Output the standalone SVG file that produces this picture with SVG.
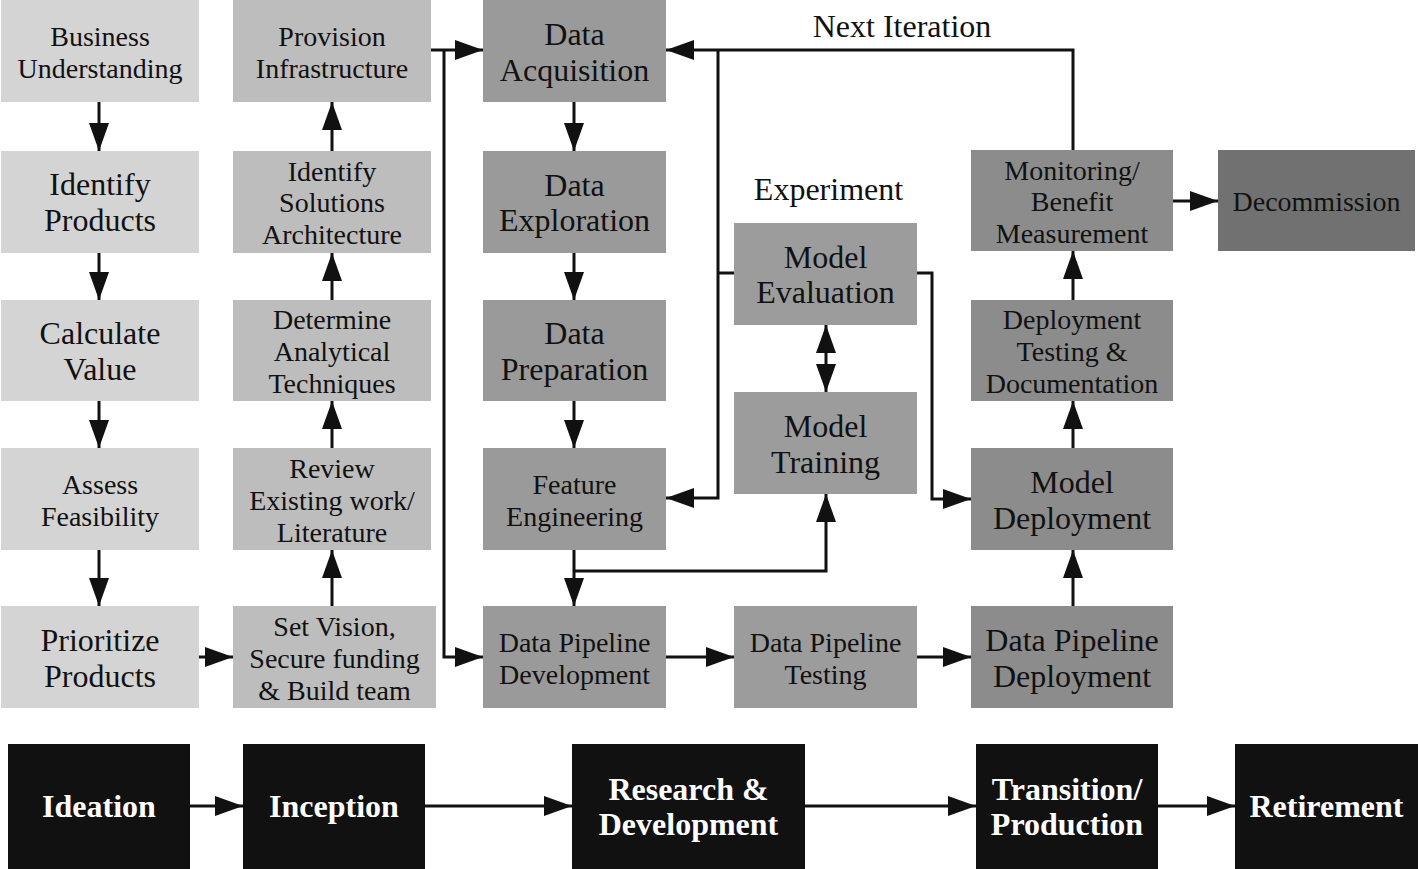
<svg xmlns="http://www.w3.org/2000/svg" width="1418" height="869" viewBox="0 0 1418 869">
<defs>
<style>
.t{font-family:"Liberation Serif","Tinos","Times New Roman","Nimbus Roman","FreeSerif","DejaVu Serif",serif;fill:#111;text-anchor:middle;dominant-baseline:central}
.s28{font-size:28px}
.s32{font-size:32px}
.b{font-family:"Liberation Serif","Tinos","Times New Roman","Nimbus Roman","FreeSerif","DejaVu Serif",serif;font-weight:bold;font-size:32px;fill:#fff;text-anchor:middle;dominant-baseline:central}
.c1{fill:#d4d4d4}
.c2{fill:#bdbdbd}
.c3{fill:#9a9a9a}
.c4{fill:#9c9c9c}
.c5{fill:#8c8c8c}
.c6{fill:#717171}
.k{fill:#111111}
.ln{fill:none;stroke:#111;stroke-width:3}
.ar{marker-end:url(#ah)}
</style>
<marker id="ah" markerUnits="userSpaceOnUse" markerWidth="28" markerHeight="20" refX="28" refY="10" orient="auto-start-reverse"><path d="M0,0 L28,10 L0,20 z" fill="#111"/></marker>
</defs>
<rect width="1418" height="869" fill="#fff"/>

<g id="connectors">
<path class="ln ar" d="M99,102 V151"/>
<path class="ln ar" d="M99,253 V300"/>
<path class="ln ar" d="M99,401 V448"/>
<path class="ln ar" d="M99,550 V606"/>
<path class="ln ar" d="M198,657 H233"/>
<path class="ln ar" d="M332,606 V550"/>
<path class="ln ar" d="M332,448 V401"/>
<path class="ln ar" d="M332,300 V253"/>
<path class="ln ar" d="M332,151 V102"/>
<path class="ln ar" d="M431,50 H483"/>
<path class="ln ar" d="M444,50 V657 H483"/>
<path class="ln ar" d="M574,102 V151"/>
<path class="ln ar" d="M574,253 V300"/>
<path class="ln ar" d="M574,401 V448"/>
<path class="ln ar" d="M574,550 V606"/>
<path class="ln ar" d="M574,571 H826 V494"/>
<path class="ln ar" d="M826,325 V392" marker-start="url(#ah)"/>
<path class="ln ar" d="M1073,150 V50 H666"/>
<path class="ln ar" d="M718,50 V498 H666"/>
<path class="ln" d="M718,273 H734"/>
<path class="ln ar" d="M917,273 H932 V499 H971"/>
<path class="ln ar" d="M666,657 H734"/>
<path class="ln ar" d="M917,657 H971"/>
<path class="ln ar" d="M1073,606 V550"/>
<path class="ln ar" d="M1073,448 V401"/>
<path class="ln ar" d="M1073,300 V251"/>
<path class="ln ar" d="M1173,201 H1218"/>
<path class="ln ar" d="M190,806 H243"/>
<path class="ln ar" d="M425,806 H572"/>
<path class="ln ar" d="M805,806 H976"/>
<path class="ln ar" d="M1158,806 H1235"/>
</g>

<g id="business-understanding"><rect class="c1" x="1" y="0" width="198" height="102"/><text class="t s28" x="100" y="36">Business</text><text class="t s28" x="100" y="68">Understanding</text></g>
<g id="identify-products"><rect class="c1" x="1" y="151" width="198" height="102"/><text class="t s32" x="100" y="184">Identify</text><text class="t s32" x="100" y="220">Products</text></g>
<g id="calculate-value"><rect class="c1" x="1" y="300" width="198" height="101"/><text class="t s32" x="100" y="333">Calculate</text><text class="t s32" x="100" y="369">Value</text></g>
<g id="assess-feasibility"><rect class="c1" x="1" y="448" width="198" height="102"/><text class="t s28" x="100" y="484">Assess</text><text class="t s28" x="100" y="516">Feasibility</text></g>
<g id="prioritize-products"><rect class="c1" x="1" y="606" width="198" height="102"/><text class="t s32" x="100" y="640">Prioritize</text><text class="t s32" x="100" y="676">Products</text></g>

<g id="provision-infrastructure"><rect class="c2" x="233" y="0" width="198" height="102"/><text class="t s28" x="332" y="36">Provision</text><text class="t s28" x="332" y="68">Infrastructure</text></g>
<g id="identify-solutions"><rect class="c2" x="233" y="151" width="198" height="102"/><text class="t s28" x="332" y="171">Identify</text><text class="t s28" x="332" y="202">Solutions</text><text class="t s28" x="332" y="234">Architecture</text></g>
<g id="determine-techniques"><rect class="c2" x="233" y="300" width="198" height="101"/><text class="t s28" x="332" y="319">Determine</text><text class="t s28" x="332" y="351">Analytical</text><text class="t s28" x="332" y="383">Techniques</text></g>
<g id="review-literature"><rect class="c2" x="233" y="448" width="198" height="102"/><text class="t s28" x="332" y="468">Review</text><text class="t s28" x="332" y="500">Existing work/</text><text class="t s28" x="332" y="532">Literature</text></g>
<g id="set-vision"><rect class="c2" x="233" y="606" width="203" height="102"/><text class="t s28" x="334.5" y="626">Set Vision,</text><text class="t s28" x="334.5" y="658">Secure funding</text><text class="t s28" x="334.5" y="690">&amp; Build team</text></g>

<g id="data-acquisition"><rect class="c3" x="483" y="0" width="183" height="102"/><text class="t s32" x="574.5" y="34">Data</text><text class="t s32" x="574.5" y="70">Acquisition</text></g>
<g id="data-exploration"><rect class="c3" x="483" y="151" width="183" height="102"/><text class="t s32" x="574.5" y="185">Data</text><text class="t s32" x="574.5" y="220">Exploration</text></g>
<g id="data-preparation"><rect class="c3" x="483" y="300" width="183" height="101"/><text class="t s32" x="574.5" y="333">Data</text><text class="t s32" x="574.5" y="369">Preparation</text></g>
<g id="feature-engineering"><rect class="c3" x="483" y="448" width="183" height="102"/><text class="t s28" x="574.5" y="484">Feature</text><text class="t s28" x="574.5" y="516">Engineering</text></g>
<g id="data-pipeline-development"><rect class="c3" x="483" y="606" width="183" height="102"/><text class="t s28" x="574.5" y="642">Data Pipeline</text><text class="t s28" x="574.5" y="674">Development</text></g>

<g id="experiment-label"><text class="t s32" x="828.5" y="189">Experiment</text></g>
<g id="model-evaluation"><rect class="c4" x="734" y="223" width="183" height="102"/><text class="t s32" x="825.5" y="257">Model</text><text class="t s32" x="825.5" y="292">Evaluation</text></g>
<g id="model-training"><rect class="c4" x="734" y="392" width="183" height="102"/><text class="t s32" x="825.5" y="426">Model</text><text class="t s32" x="825.5" y="462">Training</text></g>
<g id="data-pipeline-testing"><rect class="c4" x="734" y="606" width="183" height="102"/><text class="t s28" x="825.5" y="642">Data Pipeline</text><text class="t s28" x="825.5" y="674">Testing</text></g>

<g id="next-iteration-label"><text class="t s32" x="902" y="26">Next Iteration</text></g>
<g id="monitoring"><rect class="c5" x="971" y="150" width="202" height="101"/><text class="t s28" x="1072" y="170">Monitoring/</text><text class="t s28" x="1072" y="201">Benefit</text><text class="t s28" x="1072" y="233">Measurement</text></g>
<g id="deployment-testing"><rect class="c5" x="971" y="300" width="202" height="101"/><text class="t s28" x="1072" y="319">Deployment</text><text class="t s28" x="1072" y="351">Testing &amp;</text><text class="t s28" x="1072" y="383">Documentation</text></g>
<g id="model-deployment"><rect class="c5" x="971" y="448" width="202" height="102"/><text class="t s32" x="1072" y="482">Model</text><text class="t s32" x="1072" y="518">Deployment</text></g>
<g id="data-pipeline-deployment"><rect class="c5" x="971" y="606" width="202" height="102"/><text class="t s32" x="1072" y="640">Data Pipeline</text><text class="t s32" x="1072" y="676">Deployment</text></g>
<g id="decommission"><rect class="c6" x="1218" y="150" width="197" height="101"/><text class="t s28" x="1316.5" y="201">Decommission</text></g>

<g id="ideation"><rect class="k" x="8" y="744" width="182" height="125"/><text class="b" x="99" y="806">Ideation</text></g>
<g id="inception"><rect class="k" x="243" y="744" width="182" height="125"/><text class="b" x="334" y="806">Inception</text></g>
<g id="research-development"><rect class="k" x="572" y="744" width="233" height="125"/><text class="b" x="688.5" y="789">Research &amp;</text><text class="b" x="688.5" y="824">Development</text></g>
<g id="transition-production"><rect class="k" x="976" y="744" width="182" height="125"/><text class="b" x="1067" y="789">Transition/</text><text class="b" x="1067" y="824">Production</text></g>
<g id="retirement"><rect class="k" x="1235" y="744" width="183" height="125"/><text class="b" x="1326.5" y="806">Retirement</text></g>
</svg>
